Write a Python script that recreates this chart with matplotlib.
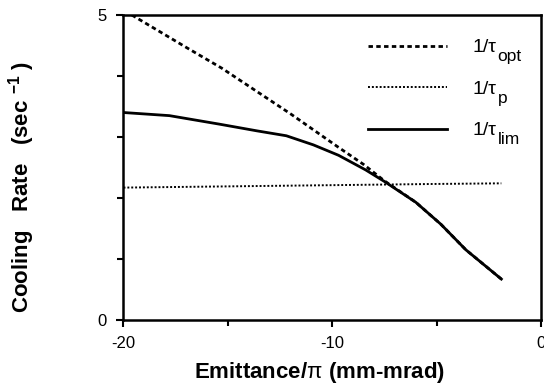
import matplotlib
matplotlib.use("Agg")
import matplotlib.pyplot as plt
from matplotlib.ticker import MultipleLocator

plt.rcParams['font.family'] = ['Liberation Sans', 'DejaVu Sans']
plt.rcParams['mathtext.fontset'] = 'custom'
plt.rcParams['mathtext.rm'] = 'Liberation Sans'
plt.rcParams['mathtext.it'] = 'Liberation Sans'
plt.rcParams['mathtext.bf'] = 'Liberation Sans:bold'

# data
x_opt = [-19.6, -17.0, -15.3, -12.0, -9.7, -8.5, -7.5, -6.0, -4.8, -3.6, -1.9]
y_opt = [5.0, 4.47, 4.13, 3.38, 2.83, 2.55, 2.28, 1.93, 1.57, 1.15, 0.67]

x_p = [-20.0, -15.0, -10.0, -5.0, -1.9]
y_p = [2.17, 2.19, 2.21, 2.23, 2.24]

x_lim = [-19.95, -17.8, -15.4, -13.6, -12.2, -10.9, -9.7, -8.4, -7.5, -6.0, -4.8, -3.6, -1.9]
y_lim = [3.40, 3.35, 3.21, 3.10, 3.02, 2.87, 2.70, 2.46, 2.27, 1.93, 1.57, 1.15, 0.67]

label_main = '1/τ'
label_subs = ['opt', 'p', 'lim']
x_ticks = [-20, -10, 0]
x_ticklabels = ['-20', '-10', '0']
y_ticks = [0, 5]
y_ticklabels = ['0', '5']

fig = plt.figure(figsize=(5.44, 3.85), dpi=100)
ax = fig.add_axes([0.227, 0.169, 0.7675, 0.792])

ax.plot(x_opt, y_opt, color='black', lw=2.0, ls=(0, (1.6, 1.2)), label=label_main)
ax.plot(x_p, y_p, color='black', lw=1.4, ls=(0, (1, 1)), label=label_main)
ax.plot(x_lim, y_lim, color='black', lw=2.0, ls='-', label=label_main)

ax.set_xlim(-20, 0)
ax.set_ylim(0, 5)
ax.set_xticks(x_ticks)
ax.set_xticklabels(x_ticklabels)
ax.set_yticks(y_ticks)
ax.set_yticklabels(y_ticklabels)
ax.xaxis.set_minor_locator(MultipleLocator(5))
ax.yaxis.set_minor_locator(MultipleLocator(1))
ax.tick_params(which='major', direction='out', length=5, width=1.5, labelsize=12)
ax.tick_params(axis='x', which='major', pad=6.5)
ax.tick_params(axis='y', which='major', pad=7)
ax.tick_params(which='minor', direction='out', length=4, width=1.5)
for s in ax.spines.values():
    s.set_linewidth(1.8)

ax.set_xlabel(r'Emittance/$\pi$ (mm-mrad)', fontsize=16, fontweight='bold')
ax.xaxis.set_label_coords(0.47, -0.13)
ax.set_ylabel(r'Cooling   Rate   (sec $^{\mathbf{-1}}$ )', fontsize=16, fontweight='bold')
ax.yaxis.set_label_coords(-0.207, 0.436)

leg = ax.legend(loc='upper left', bbox_to_anchor=(0.585, 0.922), frameon=False,
                fontsize=14, handlelength=4.1, handletextpad=1.3, labelspacing=1.23,
                borderpad=0, borderaxespad=0)
for t, sub in zip(leg.get_texts(), label_subs):
    ax.annotate(sub, xy=(1, 0), xycoords=t, xytext=(1, -5), textcoords='offset pixels',
                fontsize=12.5, va='baseline', ha='left', zorder=10)

fig.savefig('out.png', dpi=100)
